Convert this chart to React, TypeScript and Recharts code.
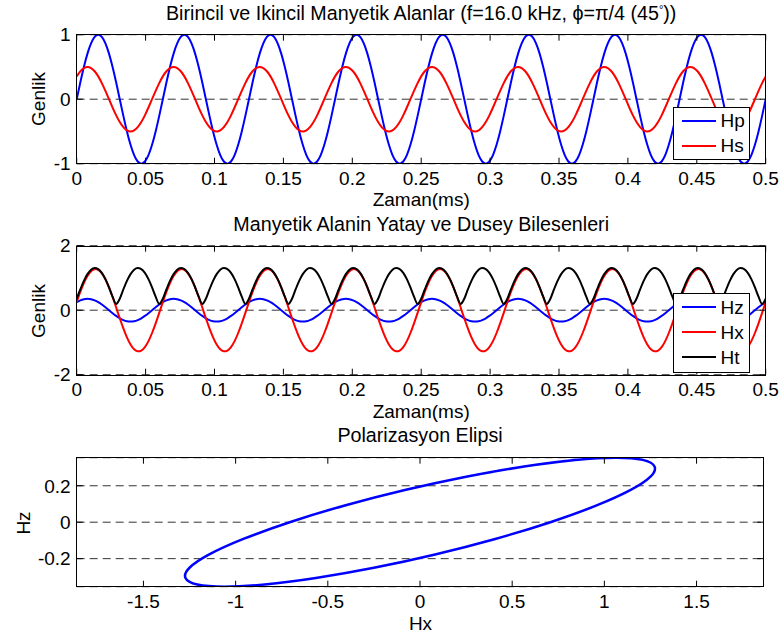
import React from 'react';
import { LineChart, Line, XAxis, YAxis, CartesianGrid } from 'recharts';

// 0..0.5 ms at 16 kHz = 8 periods, one sample every 15 degrees of phase
const SAMPLE_STEP_MS = 0.5 / 192;

const hpValues = [
  0, 0.259, 0.5, 0.707, 0.866, 0.966, 1, 0.966, 0.866, 0.707, 0.5, 0.259, 0, -0.259, -0.5, -0.707, -0.866, -0.966, -1, -0.966, -0.866, -0.707, -0.5, -0.259,
  0, 0.259, 0.5, 0.707, 0.866, 0.966, 1, 0.966, 0.866, 0.707, 0.5, 0.259, 0, -0.259, -0.5, -0.707, -0.866, -0.966, -1, -0.966, -0.866, -0.707, -0.5, -0.259,
  0, 0.259, 0.5, 0.707, 0.866, 0.966, 1, 0.966, 0.866, 0.707, 0.5, 0.259, 0, -0.259, -0.5, -0.707, -0.866, -0.966, -1, -0.966, -0.866, -0.707, -0.5, -0.259,
  0, 0.259, 0.5, 0.707, 0.866, 0.966, 1, 0.966, 0.866, 0.707, 0.5, 0.259, 0, -0.259, -0.5, -0.707, -0.866, -0.966, -1, -0.966, -0.866, -0.707, -0.5, -0.259,
  0, 0.259, 0.5, 0.707, 0.866, 0.966, 1, 0.966, 0.866, 0.707, 0.5, 0.259, 0, -0.259, -0.5, -0.707, -0.866, -0.966, -1, -0.966, -0.866, -0.707, -0.5, -0.259,
  0, 0.259, 0.5, 0.707, 0.866, 0.966, 1, 0.966, 0.866, 0.707, 0.5, 0.259, 0, -0.259, -0.5, -0.707, -0.866, -0.966, -1, -0.966, -0.866, -0.707, -0.5, -0.259,
  0, 0.259, 0.5, 0.707, 0.866, 0.966, 1, 0.966, 0.866, 0.707, 0.5, 0.259, 0, -0.259, -0.5, -0.707, -0.866, -0.966, -1, -0.966, -0.866, -0.707, -0.5, -0.259,
  0, 0.259, 0.5, 0.707, 0.866, 0.966, 1, 0.966, 0.866, 0.707, 0.5, 0.259, 0, -0.259, -0.5, -0.707, -0.866, -0.966, -1, -0.966, -0.866, -0.707, -0.5, -0.259,
  0,
];

const hsValues = [
  0.354, 0.433, 0.483, 0.5, 0.483, 0.433, 0.354, 0.25, 0.129, 0, -0.129, -0.25, -0.354, -0.433, -0.483, -0.5, -0.483, -0.433, -0.354, -0.25, -0.129, 0, 0.129, 0.25,
  0.354, 0.433, 0.483, 0.5, 0.483, 0.433, 0.354, 0.25, 0.129, 0, -0.129, -0.25, -0.354, -0.433, -0.483, -0.5, -0.483, -0.433, -0.354, -0.25, -0.129, 0, 0.129, 0.25,
  0.354, 0.433, 0.483, 0.5, 0.483, 0.433, 0.354, 0.25, 0.129, 0, -0.129, -0.25, -0.354, -0.433, -0.483, -0.5, -0.483, -0.433, -0.354, -0.25, -0.129, 0, 0.129, 0.25,
  0.354, 0.433, 0.483, 0.5, 0.483, 0.433, 0.354, 0.25, 0.129, 0, -0.129, -0.25, -0.354, -0.433, -0.483, -0.5, -0.483, -0.433, -0.354, -0.25, -0.129, 0, 0.129, 0.25,
  0.354, 0.433, 0.483, 0.5, 0.483, 0.433, 0.354, 0.25, 0.129, 0, -0.129, -0.25, -0.354, -0.433, -0.483, -0.5, -0.483, -0.433, -0.354, -0.25, -0.129, 0, 0.129, 0.25,
  0.354, 0.433, 0.483, 0.5, 0.483, 0.433, 0.354, 0.25, 0.129, 0, -0.129, -0.25, -0.354, -0.433, -0.483, -0.5, -0.483, -0.433, -0.354, -0.25, -0.129, 0, 0.129, 0.25,
  0.354, 0.433, 0.483, 0.5, 0.483, 0.433, 0.354, 0.25, 0.129, 0, -0.129, -0.25, -0.354, -0.433, -0.483, -0.5, -0.483, -0.433, -0.354, -0.25, -0.129, 0, 0.129, 0.25,
  0.354, 0.433, 0.483, 0.5, 0.483, 0.433, 0.354, 0.25, 0.129, 0, -0.129, -0.25, -0.354, -0.433, -0.483, -0.5, -0.483, -0.433, -0.354, -0.25, -0.129, 0, 0.129, 0.25,
  0.354,
];

const hzValues = [
  0.25, 0.306, 0.342, 0.354, 0.342, 0.306, 0.25, 0.177, 0.092, 0, -0.092, -0.177, -0.25, -0.306, -0.342, -0.354, -0.342, -0.306, -0.25, -0.177, -0.092, 0, 0.092, 0.177,
  0.25, 0.306, 0.342, 0.354, 0.342, 0.306, 0.25, 0.177, 0.092, 0, -0.092, -0.177, -0.25, -0.306, -0.342, -0.354, -0.342, -0.306, -0.25, -0.177, -0.092, 0, 0.092, 0.177,
  0.25, 0.306, 0.342, 0.354, 0.342, 0.306, 0.25, 0.177, 0.092, 0, -0.092, -0.177, -0.25, -0.306, -0.342, -0.354, -0.342, -0.306, -0.25, -0.177, -0.092, 0, 0.092, 0.177,
  0.25, 0.306, 0.342, 0.354, 0.342, 0.306, 0.25, 0.177, 0.092, 0, -0.092, -0.177, -0.25, -0.306, -0.342, -0.354, -0.342, -0.306, -0.25, -0.177, -0.092, 0, 0.092, 0.177,
  0.25, 0.306, 0.342, 0.354, 0.342, 0.306, 0.25, 0.177, 0.092, 0, -0.092, -0.177, -0.25, -0.306, -0.342, -0.354, -0.342, -0.306, -0.25, -0.177, -0.092, 0, 0.092, 0.177,
  0.25, 0.306, 0.342, 0.354, 0.342, 0.306, 0.25, 0.177, 0.092, 0, -0.092, -0.177, -0.25, -0.306, -0.342, -0.354, -0.342, -0.306, -0.25, -0.177, -0.092, 0, 0.092, 0.177,
  0.25, 0.306, 0.342, 0.354, 0.342, 0.306, 0.25, 0.177, 0.092, 0, -0.092, -0.177, -0.25, -0.306, -0.342, -0.354, -0.342, -0.306, -0.25, -0.177, -0.092, 0, 0.092, 0.177,
  0.25, 0.306, 0.342, 0.354, 0.342, 0.306, 0.25, 0.177, 0.092, 0, -0.092, -0.177, -0.25, -0.306, -0.342, -0.354, -0.342, -0.306, -0.25, -0.177, -0.092, 0, 0.092, 0.177,
  0.25,
];

const hxValues = [
  0.25, 0.565, 0.842, 1.061, 1.208, 1.272, 1.25, 1.143, 0.958, 0.707, 0.408, 0.082, -0.25, -0.565, -0.842, -1.061, -1.208, -1.272, -1.25, -1.143, -0.958, -0.707, -0.408, -0.082,
  0.25, 0.565, 0.842, 1.061, 1.208, 1.272, 1.25, 1.143, 0.958, 0.707, 0.408, 0.082, -0.25, -0.565, -0.842, -1.061, -1.208, -1.272, -1.25, -1.143, -0.958, -0.707, -0.408, -0.082,
  0.25, 0.565, 0.842, 1.061, 1.208, 1.272, 1.25, 1.143, 0.958, 0.707, 0.408, 0.082, -0.25, -0.565, -0.842, -1.061, -1.208, -1.272, -1.25, -1.143, -0.958, -0.707, -0.408, -0.082,
  0.25, 0.565, 0.842, 1.061, 1.208, 1.272, 1.25, 1.143, 0.958, 0.707, 0.408, 0.082, -0.25, -0.565, -0.842, -1.061, -1.208, -1.272, -1.25, -1.143, -0.958, -0.707, -0.408, -0.082,
  0.25, 0.565, 0.842, 1.061, 1.208, 1.272, 1.25, 1.143, 0.958, 0.707, 0.408, 0.082, -0.25, -0.565, -0.842, -1.061, -1.208, -1.272, -1.25, -1.143, -0.958, -0.707, -0.408, -0.082,
  0.25, 0.565, 0.842, 1.061, 1.208, 1.272, 1.25, 1.143, 0.958, 0.707, 0.408, 0.082, -0.25, -0.565, -0.842, -1.061, -1.208, -1.272, -1.25, -1.143, -0.958, -0.707, -0.408, -0.082,
  0.25, 0.565, 0.842, 1.061, 1.208, 1.272, 1.25, 1.143, 0.958, 0.707, 0.408, 0.082, -0.25, -0.565, -0.842, -1.061, -1.208, -1.272, -1.25, -1.143, -0.958, -0.707, -0.408, -0.082,
  0.25, 0.565, 0.842, 1.061, 1.208, 1.272, 1.25, 1.143, 0.958, 0.707, 0.408, 0.082, -0.25, -0.565, -0.842, -1.061, -1.208, -1.272, -1.25, -1.143, -0.958, -0.707, -0.408, -0.082,
  0.25,
];

const htValues = [
  0.354, 0.643, 0.909, 1.118, 1.256, 1.308, 1.275, 1.157, 0.962, 0.707, 0.418, 0.195, 0.354, 0.643, 0.909, 1.118, 1.256, 1.308, 1.275, 1.157, 0.962, 0.707, 0.418, 0.195,
  0.354, 0.643, 0.909, 1.118, 1.256, 1.308, 1.275, 1.157, 0.962, 0.707, 0.418, 0.195, 0.354, 0.643, 0.909, 1.118, 1.256, 1.308, 1.275, 1.157, 0.962, 0.707, 0.418, 0.195,
  0.354, 0.643, 0.909, 1.118, 1.256, 1.308, 1.275, 1.157, 0.962, 0.707, 0.418, 0.195, 0.354, 0.643, 0.909, 1.118, 1.256, 1.308, 1.275, 1.157, 0.962, 0.707, 0.418, 0.195,
  0.354, 0.643, 0.909, 1.118, 1.256, 1.308, 1.275, 1.157, 0.962, 0.707, 0.418, 0.195, 0.354, 0.643, 0.909, 1.118, 1.256, 1.308, 1.275, 1.157, 0.962, 0.707, 0.418, 0.195,
  0.354, 0.643, 0.909, 1.118, 1.256, 1.308, 1.275, 1.157, 0.962, 0.707, 0.418, 0.195, 0.354, 0.643, 0.909, 1.118, 1.256, 1.308, 1.275, 1.157, 0.962, 0.707, 0.418, 0.195,
  0.354, 0.643, 0.909, 1.118, 1.256, 1.308, 1.275, 1.157, 0.962, 0.707, 0.418, 0.195, 0.354, 0.643, 0.909, 1.118, 1.256, 1.308, 1.275, 1.157, 0.962, 0.707, 0.418, 0.195,
  0.354, 0.643, 0.909, 1.118, 1.256, 1.308, 1.275, 1.157, 0.962, 0.707, 0.418, 0.195, 0.354, 0.643, 0.909, 1.118, 1.256, 1.308, 1.275, 1.157, 0.962, 0.707, 0.418, 0.195,
  0.354, 0.643, 0.909, 1.118, 1.256, 1.308, 1.275, 1.157, 0.962, 0.707, 0.418, 0.195, 0.354, 0.643, 0.909, 1.118, 1.256, 1.308, 1.275, 1.157, 0.962, 0.707, 0.418, 0.195,
  0.354,
];

const timeTicks = [0, 0.05, 0.1, 0.15, 0.2, 0.25, 0.3, 0.35, 0.4, 0.45, 0.5];
const fieldTicks = [-1, 0, 1];
const componentTicks = [-2, 0, 2];
const hxTicks = [-1.5, -1, -0.5, 0, 0.5, 1, 1.5];
const hzTicks = [-0.2, 0, 0.2];

const fieldSeries = [
  { key: 'hp', name: 'Hp', color: '#0000ff', curve: 'natural' },
  { key: 'hs', name: 'Hs', color: '#ff0000', curve: 'natural' },
];
const componentSeries = [
  { key: 'hz', name: 'Hz', color: '#0000ff', curve: 'natural' },
  { key: 'hx', name: 'Hx', color: '#ff0000', curve: 'natural' },
  { key: 'ht', name: 'Ht', color: '#000000', curve: 'monotone' },
];

const timeRows = hpValues.map((hp, i) => ({
  t: i * SAMPLE_STEP_MS,
  hp,
  hs: hsValues[i],
  hz: hzValues[i],
  hx: hxValues[i],
  ht: htValues[i],
}));

// one full turn (plus a little overlap) is enough to close the ellipse
const ellipseRows = hxValues.slice(0, 27).map((hx, i) => ({ hx, hz: hzValues[i] }));

const FONT = '"Liberation Sans", Arial, Helvetica, sans-serif';
const FS = 19;
const TITLE_FS = 19.7;
const W = 784;
const CHART_H = 211;

const tickStyle = { fill: '#000', fontSize: FS, fontFamily: FONT };
const blackLine = { stroke: '#000', strokeWidth: 1 };
const blank = () => '';

// MATLAB style axes: ticks pointing inward on all four sides, dashed y grid
function frame(xKey: string, yKey: string, xDomain: number[], xTicks: number[], yDomain: number[], yTicks: number[]) {
  return [
    <CartesianGrid key="grid" vertical={false} stroke="#333" strokeDasharray="8 5" />,
    <XAxis key="xb" dataKey={xKey} type="number" domain={xDomain} ticks={xTicks} interval={0}
      allowDataOverflow height={30} tickSize={-6} tickMargin={13.4}
      axisLine={false} tickLine={blackLine} tick={tickStyle} />,
    <XAxis key="xt" xAxisId="top" orientation="top" dataKey={xKey} type="number" domain={xDomain}
      ticks={xTicks} interval={0} allowDataOverflow height={1} tickSize={-6} tickFormatter={blank}
      axisLine={false} tickLine={blackLine} tick={tickStyle} />,
    <YAxis key="yl" dataKey={yKey} type="number" domain={yDomain} ticks={yTicks} interval={0} allowDataOverflow
      width={60} tickSize={-6} tickMargin={12} axisLine={false} tickLine={blackLine} tick={tickStyle} />,
    <YAxis key="yr" yAxisId="right" orientation="right" dataKey={yKey} type="number" domain={yDomain} ticks={yTicks}
      interval={0} allowDataOverflow width={1} tickSize={-6} tickFormatter={blank}
      axisLine={false} tickLine={blackLine} tick={tickStyle} />,
  ];
}

const textAt = (x: number, y: number, rotate = false, size = FS): React.CSSProperties => ({
  position: 'absolute',
  left: x,
  top: y,
  transform: `translate(-50%, -50%)${rotate ? ' rotate(-90deg)' : ''}`,
  whiteSpace: 'nowrap',
  fontFamily: FONT,
  fontSize: size,
  lineHeight: 1,
  color: '#000',
});

// axes box drawn over the plot area
function Box({ left, top, right, bottom }: { left: number; top: number; right: number; bottom: number }) {
  return (
    <div style={{
      position: 'absolute', left: left - 0.5, top: top - 0.5, width: right - left + 1, height: bottom - top + 1,
      boxSizing: 'border-box', border: '1px solid #000', pointerEvents: 'none',
    }} />
  );
}

function LegendBox({ items, left, top, height }: { items: typeof componentSeries; left: number; top: number; height: number }) {
  return (
    <div style={{
      position: 'absolute', left, top, width: 77, height, boxSizing: 'border-box',
      border: '1px solid #000', background: '#fff', paddingTop: 0.5,
    }}>
      {items.map((s) => (
        <div key={s.key} style={{ height: 25, display: 'flex', alignItems: 'center' }}>
          <div style={{ marginLeft: 7.5, width: 34, borderTop: `2px solid ${s.color}` }} />
          <span style={{ marginLeft: 5, fontFamily: FONT, fontSize: FS, lineHeight: 1 }}>{s.name}</span>
        </div>
      ))}
    </div>
  );
}

const timeMargin = { top: 33.7, right: 17.3, bottom: 17.3, left: 16.7 };
const ellipseMargin = { top: 33.7, right: 19.7, bottom: 17.3, left: 16.7 };

export default function App() {
  return (
    <div style={{ position: 'absolute', left: 0, top: 0, width: W, height: 637, background: '#fff', overflow: 'hidden' }}>
      <div style={{ position: 'absolute', left: 0, top: 0 }}>
        <LineChart width={W} height={CHART_H} data={timeRows} margin={timeMargin}>
          {frame('t', 'hp', [0, 0.5], timeTicks, [-1, 1], fieldTicks)}
          {fieldSeries.map((s) => (
            <Line key={s.key} dataKey={s.key} name={s.name} type={s.curve as any} stroke={s.color}
              strokeWidth={2} dot={false} isAnimationActive={false} />
          ))}
        </LineChart>
      </div>

      <div style={{ position: 'absolute', left: 0, top: 211.3 }}>
        <LineChart width={W} height={CHART_H} data={timeRows} margin={timeMargin}>
          {frame('t', 'hx', [0, 0.5], timeTicks, [-2, 2], componentTicks)}
          {componentSeries.map((s) => (
            <Line key={s.key} dataKey={s.key} name={s.name} type={s.curve as any} stroke={s.color}
              strokeWidth={2} dot={false} isAnimationActive={false} />
          ))}
        </LineChart>
      </div>

      <div style={{ position: 'absolute', left: 0, top: 423 }}>
        <LineChart width={W} height={CHART_H} data={ellipseRows} margin={ellipseMargin}>
          {frame('hx', 'hz', [-1.862, 1.862], hxTicks, [-0.354, 0.354], hzTicks)}
          <Line dataKey="hz" name="Hz" type="natural" stroke="#0000ff" strokeWidth={2.5}
            dot={false} isAnimationActive={false} />
        </LineChart>
      </div>

      <Box left={76.7} top={34.7} right={765.7} bottom={163.7} />
      <Box left={76.7} top={246} right={765.7} bottom={375} />
      <Box left={76.7} top={457.7} right={763.3} bottom={586.7} />

      <div style={textAt(421.2, 13.8, false, TITLE_FS)}>
        Birincil ve Ikincil Manyetik Alanlar (f=16.0 kHz, ϕ=π/4 (45
        <span style={{ fontSize: 11, position: 'relative', top: -7 }}>°</span>))
      </div>
      <div style={textAt(421.2, 199.3)}>Zaman(ms)</div>
      <div style={textAt(37.5, 99, true)}>Genlik</div>

      <div style={textAt(421.2, 224.9, false, TITLE_FS)}>Manyetik Alanin Yatay ve Dusey Bilesenleri</div>
      <div style={textAt(421.2, 411)}>Zaman(ms)</div>
      <div style={textAt(37.5, 310.7, true)}>Genlik</div>

      <div style={textAt(420, 436.3, false, TITLE_FS)}>Polarizasyon Elipsi</div>
      <div style={textAt(420.5, 622.5)}>Hx</div>
      <div style={textAt(23.3, 522.5, true)}>Hz</div>

      <LegendBox items={fieldSeries} left={673} top={106.7} height={53.5} />
      <LegendBox items={componentSeries} left={673} top={293.3} height={79.5} />
    </div>
  );
}
